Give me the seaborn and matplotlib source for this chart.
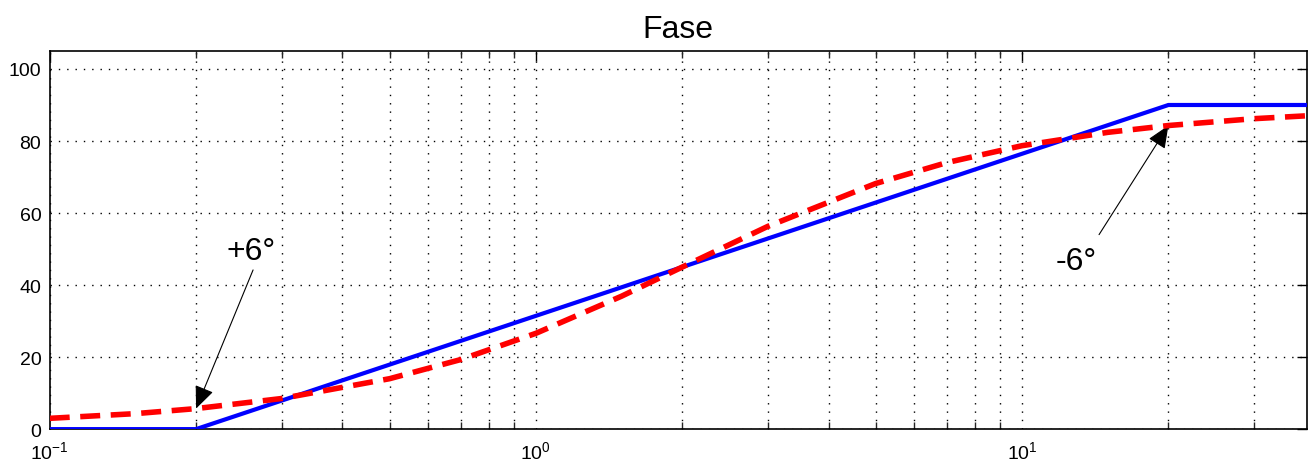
import matplotlib
matplotlib.use("Agg")
import matplotlib.pyplot as plt
import seaborn as sns
import pandas as pd
import numpy as np
from matplotlib.ticker import LogLocator, NullFormatter

# Data
asym_w = [0.1, 0.2, 20, 38.5]
asym_phase = [0, 0, 90, 90]

real_w = [0.1, 0.15, 0.2, 0.3, 0.5, 0.7, 1.0, 1.5, 2.0, 3.0, 5.0, 7.0, 10.0, 15.0, 20.0, 30.0, 38.5]
real_phase = [3.0, 4.3, 5.7, 8.5, 14.0, 19.3, 26.6, 36.9, 45.0, 56.3, 68.2, 74.0, 78.7, 82.4, 84.3, 86.2, 87.0]

title = "Fase"
ann_plus = ("+6°", 0.2, 5.7)
ann_minus = ("-6°", 20, 84.3)

sns.set_theme(style="white")
plt.rcParams['font.family'] = ['Liberation Sans', 'DejaVu Sans']
plt.rcParams['mathtext.fontset'] = 'custom'
plt.rcParams['mathtext.rm'] = 'Liberation Sans'
plt.rcParams['text.color'] = 'black'

fig = plt.figure(figsize=(13.08, 4.64), dpi=100)
ax = fig.add_axes([0.038, 0.073, 0.961, 0.815])

df_a = pd.DataFrame({"w": asym_w, "phase": asym_phase})
df_r = pd.DataFrame({"w": real_w, "phase": real_phase})
sns.lineplot(data=df_a, x="w", y="phase", ax=ax, color="#0000ff", linewidth=3.0, zorder=3)
sns.lineplot(data=df_r, x="w", y="phase", ax=ax, color="#ff0000", linewidth=4.0,
             linestyle=(0, (3.6, 1.9)), zorder=4)

ax.set_xscale("log")
ax.set_xlim(0.1, 38.5)
ax.set_ylim(0, 105)
ax.set_yticks([0, 20, 40, 60, 80, 100])
ax.xaxis.set_major_locator(LogLocator(base=10, numticks=10))
ax.xaxis.set_minor_locator(LogLocator(base=10, subs=np.arange(2, 10), numticks=20))
ax.xaxis.set_minor_formatter(NullFormatter())

ax.grid(True, which="major", axis="both", color="black", linestyle=(0, (1, 5)), linewidth=1.0)
ax.grid(True, which="minor", axis="x", color="black", linestyle=(0, (1, 5)), linewidth=1.0)

ax.tick_params(axis="both", which="major", direction="in", length=7, width=1, top=True, right=True,
               labelsize=14, colors="black")
ax.tick_params(axis="x", which="major", pad=8)
ax.tick_params(axis="y", which="major", pad=6)
ax.tick_params(axis="x", which="minor", direction="in", length=5, width=1, top=True, bottom=True)
for s in ax.spines.values():
    s.set_color("black")
    s.set_linewidth(1.2)

ax.set_xlabel("")
ax.set_ylabel("")
ax.set_title(title, fontsize=23, pad=10, color="black")

arrow = dict(arrowstyle="-|>,head_length=0.7,head_width=0.3", color="black", lw=0.8,
             mutation_scale=20, shrinkA=0, shrinkB=0)
ax.text(0.259, 49.5, ann_plus[0], fontsize=23, ha="center", va="center", color="black")
ax.annotate("", xy=(ann_plus[1], ann_plus[2]), xytext=(0.262, 44.2), arrowprops=arrow)
ax.text(12.9, 46.8, ann_minus[0], fontsize=23, ha="center", va="center", color="black")
ax.annotate("", xy=(ann_minus[1], ann_minus[2]), xytext=(14.4, 54.0), arrowprops=arrow)

fig.savefig("out.png", dpi=100)
